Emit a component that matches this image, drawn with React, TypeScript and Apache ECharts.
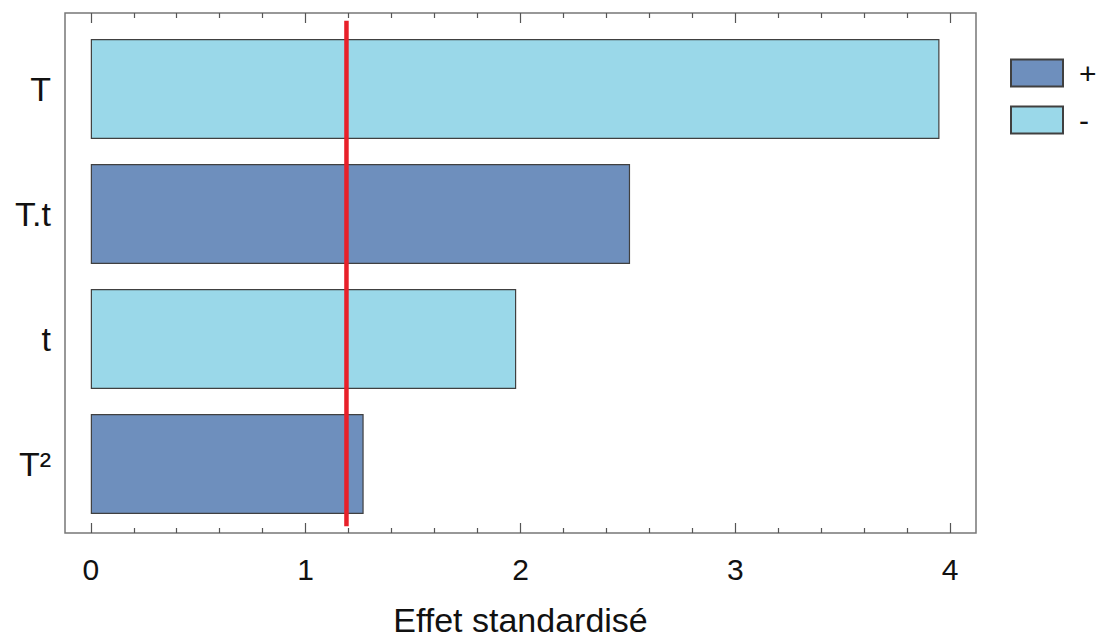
import React, { useEffect, useRef } from "react";
import * as echarts from "echarts";

const categories = ["T", "T.t", "t", "T²"];
const effects = [3.95, 2.51, 1.98, 1.27];
const signs = ["-", "+", "-", "+"];
const threshold = 1.19;
const majorTicks = [0, 1, 2, 3, 4];
const minorTicks = [0.2, 0.4, 0.6, 0.8, 1.2, 1.4, 1.6, 1.8, 2.2, 2.4, 2.6, 2.8, 3.2, 3.4, 3.6, 3.8];
const legendNames = ["+", "-"];

const FONT = "'Liberation Sans', Arial, sans-serif";
const X_MIN = -0.12;
const X_MAX = 4.12;
const PLUS_COLOR = "#6e8fbd";
const MINUS_COLOR = "#9ad8e9";
const EDGE = "#404040";

export default function App() {
  const ref = useRef<HTMLDivElement>(null);

  useEffect(() => {
    document.body.style.margin = "0";
    if (!ref.current) return;
    const chart = echarts.init(ref.current, null, { renderer: "svg" });

    const tickAxis = (pos: "top" | "bottom", values: number[], len: number, labels: boolean) => ({
      type: "value",
      gridIndex: 0,
      position: pos,
      min: X_MIN,
      max: X_MAX,
      axisLine: { show: false },
      splitLine: { show: false },
      axisTick: {
        show: true,
        inside: true,
        length: len,
        customValues: values,
        lineStyle: { color: "#555", width: 1.2 },
      },
      axisLabel: labels
        ? {
            show: true,
            customValues: values,
            fontSize: 30,
            color: "#111",
            fontFamily: FONT,
            margin: 21,
          }
        : { show: false },
    });

    const bottomMajor: any = tickAxis("bottom", majorTicks, 10, true);
    bottomMajor.name = "Effet standardisé";
    bottomMajor.nameLocation = "middle";
    bottomMajor.nameGap = 70;
    bottomMajor.nameTextStyle = { fontSize: 34, color: "#111", fontFamily: FONT };

    const option: any = {
      animation: false,
      backgroundColor: "#fff",
      grid: [
        {
          left: 65,
          top: 13,
          width: 911,
          height: 527,
          show: true,
          borderColor: "#777",
          borderWidth: 1.5,
          backgroundColor: "transparent",
        },
        { left: 65, top: 26.5, width: 911, height: 500 },
      ],
      legend: {
        data: legendNames,
        orient: "vertical",
        left: 1005,
        top: 53,
        icon: "rect",
        itemWidth: 52,
        itemHeight: 27,
        itemGap: 17,
        textStyle: { fontSize: 30, color: "#111", fontFamily: FONT, padding: [0, 0, 0, 11] },
      },
      xAxis: [
        bottomMajor,
        tickAxis("bottom", minorTicks, 5, false),
        tickAxis("top", majorTicks, 10, false),
        tickAxis("top", minorTicks, 5, false),
        { type: "value", gridIndex: 1, min: X_MIN, max: X_MAX, show: false },
      ],
      yAxis: [
        { type: "value", gridIndex: 0, min: 0, max: 1, show: false },
        {
          type: "category",
          gridIndex: 1,
          data: categories,
          inverse: true,
          axisLine: { show: false },
          axisTick: { show: false },
          splitLine: { show: false },
          axisLabel: { fontSize: 34, color: "#111", fontFamily: FONT, margin: 14 },
        },
      ],
      series: [
        {
          name: "+",
          type: "bar",
          xAxisIndex: 4,
          yAxisIndex: 1,
          stack: "s",
          barWidth: 100,
          data: effects.map((v, i) => (signs[i] === "+" ? v : "-")),
          itemStyle: { color: PLUS_COLOR, borderColor: EDGE, borderWidth: 1.2 },
        },
        {
          name: "-",
          type: "bar",
          xAxisIndex: 4,
          yAxisIndex: 1,
          stack: "s",
          barWidth: 100,
          data: effects.map((v, i) => (signs[i] === "-" ? v : "-")),
          itemStyle: { color: MINUS_COLOR, borderColor: EDGE, borderWidth: 1.2 },
        },
        {
          name: "threshold",
          type: "line",
          xAxisIndex: 0,
          yAxisIndex: 0,
          symbol: "none",
          data: [
            [threshold, 0.013],
            [threshold, 0.985],
          ],
          lineStyle: { color: "#e8202a", width: 4.5, cap: "butt" },
          z: 5,
        },
      ],
    };

    chart.setOption(option);
    return () => chart.dispose();
  }, []);

  return <div ref={ref} style={{ width: 1103, height: 642 }} />;
}
